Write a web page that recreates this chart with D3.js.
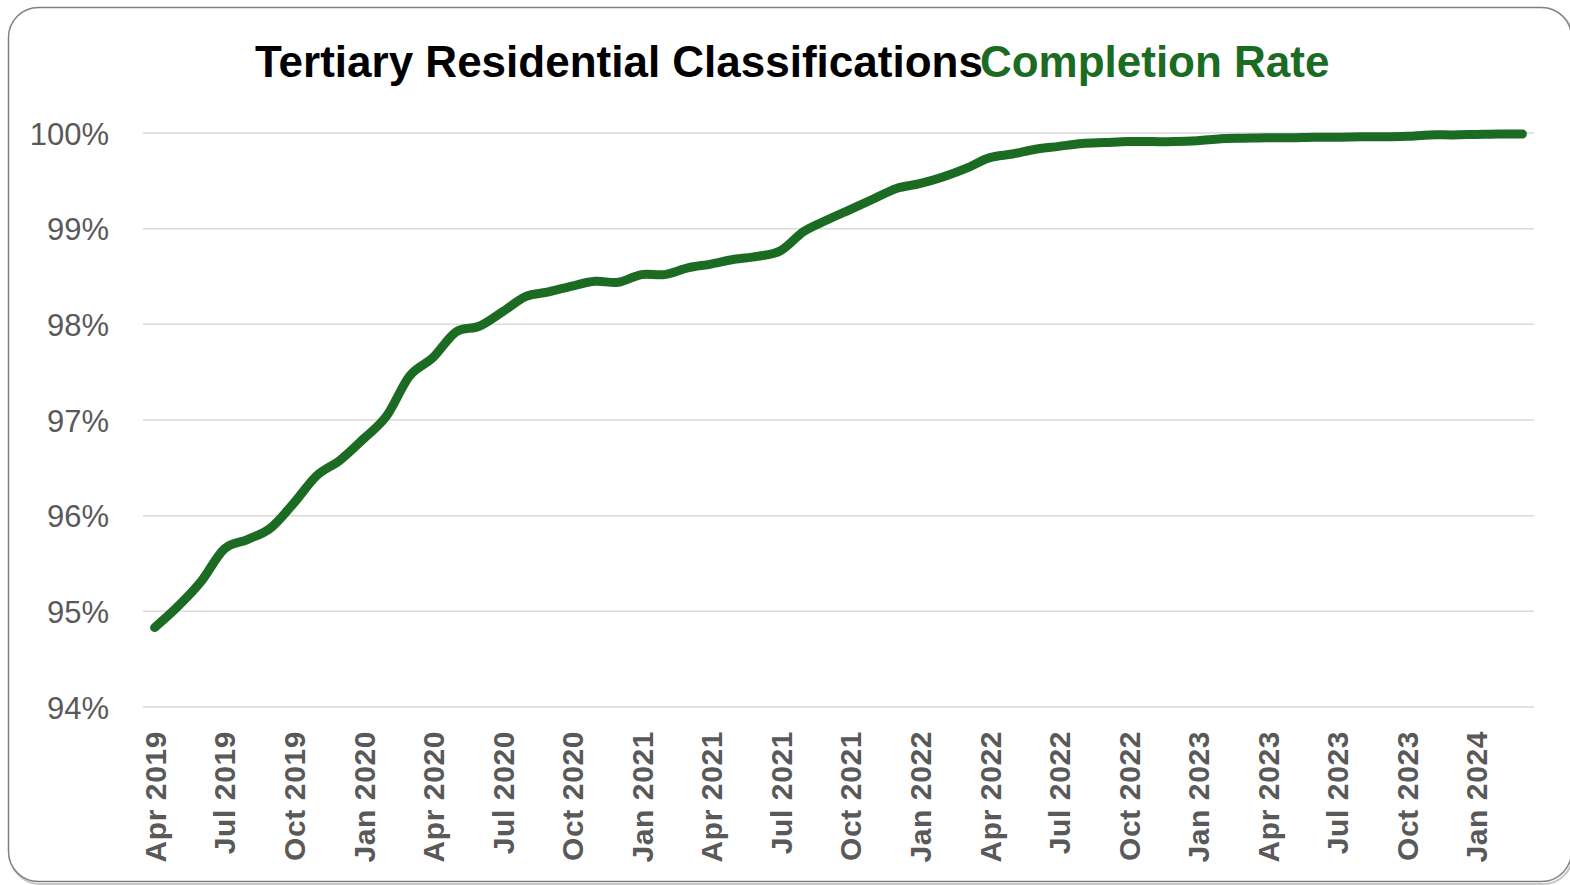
<!DOCTYPE html>
<html>
<head>
<meta charset="utf-8">
<script src="https://cdn.jsdelivr.net/npm/d3@7"></script>
<style>
  html, body { margin: 0; padding: 0; background: #ffffff; }
  svg { display: block; }
</style>
</head>
<body>
<svg id="chart" width="1570" height="885"></svg>
<script>
// ---- data ----
const months = [
  "Apr 2019","May 2019","Jun 2019","Jul 2019","Aug 2019","Sep 2019","Oct 2019","Nov 2019","Dec 2019",
  "Jan 2020","Feb 2020","Mar 2020","Apr 2020","May 2020","Jun 2020","Jul 2020","Aug 2020","Sep 2020","Oct 2020","Nov 2020","Dec 2020",
  "Jan 2021","Feb 2021","Mar 2021","Apr 2021","May 2021","Jun 2021","Jul 2021","Aug 2021","Sep 2021","Oct 2021","Nov 2021","Dec 2021",
  "Jan 2022","Feb 2022","Mar 2022","Apr 2022","May 2022","Jun 2022","Jul 2022","Aug 2022","Sep 2022","Oct 2022","Nov 2022","Dec 2022",
  "Jan 2023","Feb 2023","Mar 2023","Apr 2023","May 2023","Jun 2023","Jul 2023","Aug 2023","Sep 2023","Oct 2023","Nov 2023","Dec 2023",
  "Jan 2024","Feb 2024","Mar 2024"
];
const completionRate = [
  94.83, 95.05, 95.31, 95.65, 95.75, 95.87, 96.13, 96.42, 96.58,
  96.80, 97.04, 97.46, 97.65, 97.92, 97.98, 98.13, 98.29, 98.34, 98.40, 98.45, 98.44,
  98.52, 98.52, 98.59, 98.63, 98.68, 98.71, 98.77, 98.97, 99.09, 99.20, 99.31, 99.42,
  99.47, 99.54, 99.63, 99.74, 99.78, 99.83, 99.86, 99.89, 99.90, 99.91, 99.91, 99.91,
  99.92, 99.94, 99.945, 99.95, 99.95, 99.955, 99.955, 99.96, 99.96, 99.965, 99.98, 99.98,
  99.985, 99.99, 99.99
];
const xTickLabels = months.filter((m, i) => i % 3 === 0);
const yTicks = [94, 95, 96, 97, 98, 99, 100];
const titleBlack = "Tertiary Residential Classifications";
const titleGreen = "Completion Rate";

// ---- drawing ----
const svg = d3.select("#chart");
const green = "#1b6b23";
const grey = "#595959";

// frame
svg.append("rect")
  .attr("x", 10).attr("y", 9).attr("width", 1563).attr("height", 875)
  .attr("rx", 30).attr("ry", 30)
  .attr("fill", "none").attr("stroke", "#c8c8c8").attr("stroke-width", 2);
svg.append("rect")
  .attr("x", 8.5).attr("y", 7.5).attr("width", 1563).attr("height", 874)
  .attr("rx", 30).attr("ry", 30)
  .attr("fill", "#ffffff").attr("stroke", "#808080").attr("stroke-width", 1.5);

const plot = { left: 143, right: 1534, top: 133, bottom: 707 };

const x = d3.scalePoint().domain(months).range([plot.left, plot.right]).padding(0.5);
const y = d3.scaleLinear().domain([94, 100]).range([plot.bottom, plot.top]);

// gridlines
svg.append("g")
  .selectAll("line")
  .data(yTicks)
  .join("line")
  .attr("x1", plot.left).attr("x2", plot.right)
  .attr("y1", d => y(d)).attr("y2", d => y(d))
  .attr("stroke", "#d9d9d9").attr("stroke-width", 1.5);

// y axis
const yAxis = d3.axisLeft(y).tickValues(yTicks).tickFormat(d => d + "%").tickSize(0).tickPadding(0);
const gy = svg.append("g").attr("transform", "translate(109,0)").call(yAxis);
gy.select(".domain").remove();
gy.selectAll("text")
  .attr("font-family", "'Liberation Sans', Arial, sans-serif")
  .attr("font-size", 31)
  .attr("fill", grey)
  .attr("dy", "0.36em");

// x axis
const xAxis = d3.axisBottom(x).tickValues(xTickLabels).tickSize(0).tickPadding(0);
const gx = svg.append("g").attr("transform", "translate(0," + plot.bottom + ")").call(xAxis);
gx.select(".domain").remove();
gx.selectAll("text")
  .attr("font-family", "'Liberation Sans', Arial, sans-serif")
  .attr("font-size", 30)
  .attr("font-weight", "bold")
  .attr("letter-spacing", 0.6)
  .attr("fill", grey)
  .attr("text-anchor", "end")
  .attr("transform", "translate(0,24) rotate(-90)")
  .attr("x", 0).attr("y", 0)
  .attr("dy", "0.36em");

// line
const line = d3.line()
  .x((d, i) => x(months[i]))
  .y(d => y(d))
  .curve(d3.curveCardinal.tension(0));
svg.append("path")
  .datum(completionRate)
  .attr("d", line)
  .attr("fill", "none")
  .attr("stroke", green)
  .attr("stroke-width", 9)
  .attr("stroke-linecap", "round")
  .attr("stroke-linejoin", "round");

// title
const title = svg.append("text")
  .attr("x", 255).attr("y", 77)
  .attr("font-family", "'Liberation Sans', Arial, sans-serif")
  .attr("font-size", 44)
  .attr("font-weight", "bold");
title.append("tspan").attr("fill", "#000000").text(titleBlack);
title.append("tspan").attr("fill", green).attr("dx", -3).text(titleGreen);
</script>
</body>
</html>
